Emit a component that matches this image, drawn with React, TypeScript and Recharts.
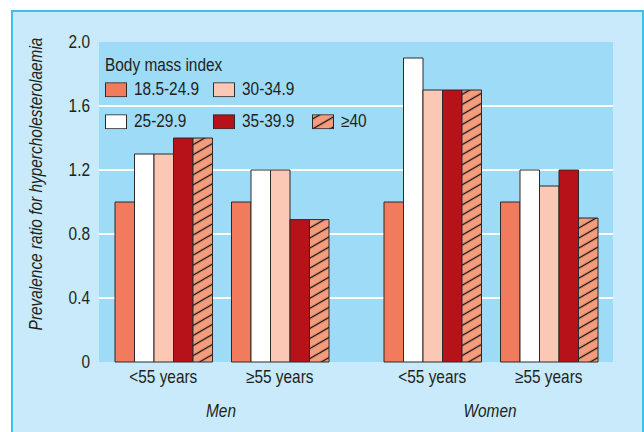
// Prevalence ratio for hypercholesterolaemia by body mass index, age group and sex.
import { BarChart, Bar, XAxis, YAxis, CartesianGrid } from "recharts";

const ageGroups = ["<55 years", "≥55 years"];
const bmiClasses = ["18.5-24.9", "25-29.9", "30-34.9", "35-39.9", "≥40"];

// one value per BMI class, in the order of bmiClasses
const menUnder55 = [1.0, 1.3, 1.3, 1.4, 1.4];
const menOver55 = [1.0, 1.2, 1.2, 0.89, 0.89];
const womenUnder55 = [1.0, 1.9, 1.7, 1.7, 1.7];
const womenOver55 = [1.0, 1.2, 1.1, 1.2, 0.9];

const yTicks = [0, 0.4, 0.8, 1.2, 1.6, 2.0];

const bmiColors = ["#f27b5d", "#ffffff", "#fac8b4", "#b71119", "url(#hatch40)"];
// no condensed face installed, so squeeze Liberation Sans horizontally
const FONT = "'Liberation Sans', Arial, sans-serif";
const FS = 17.5;
const SQ = 0.88;
const TEXT = "#231f20";

const toRows = (series: number[][]) =>
  ageGroups.map((group, i) => {
    const row: Record<string, string | number> = { group };
    bmiClasses.forEach((_, k) => {
      row[`b${k}`] = series[i][k];
    });
    return row;
  });

const menData = toRows([menUnder55, menOver55]);
const womenData = toRows([womenUnder55, womenOver55]);

const fmtY = (v: number) => (v === 0 ? "0" : v.toFixed(1));

const XTick = (props: any) => {
  const { x, y, payload } = props;
  return (
    <text
      transform={`translate(${x},${y}) scale(${SQ},1)`}
      textAnchor="middle"
      dy="0.71em"
      fontSize={FS}
      fontFamily={FONT}
      fill={TEXT}
    >
      {payload.value}
    </text>
  );
};

const YTick = (props: any) => {
  const { x, y, payload } = props;
  return (
    <text
      transform={`translate(${x},${y}) scale(${SQ},1)`}
      textAnchor="end"
      dy="0.36em"
      fontSize={FS}
      fontFamily={FONT}
      fill={TEXT}
    >
      {fmtY(payload.value)}
    </text>
  );
};

function Panel({
  data,
  width,
  margin,
  showY,
  padding,
}: {
  data: Record<string, string | number>[];
  width: number;
  margin: { top: number; right: number; bottom: number; left: number };
  showY: boolean;
  padding: { left: number; right: number };
}) {
  return (
    <BarChart
      width={width}
      height={432}
      data={data}
      margin={margin}
      barGap={0}
      barSize={19.5}
    >
      <CartesianGrid
        vertical={false}
        horizontalValues={[0.4, 0.8, 1.2, 1.6]}
        stroke="#ffffff"
        strokeWidth={2}
        fill="#9ddbf6"
        fillOpacity={1}
      />
      <XAxis
        dataKey="group"
        height={70}
        tickLine={false}
        axisLine={false}
        tickMargin={3}
        padding={padding}
        tick={<XTick />}
        interval={0}
      />
      <YAxis
        hide={!showY}
        width={99}
        domain={[0, 2]}
        ticks={yTicks}
        tickLine={false}
        axisLine={false}
        tickMargin={3}
        tick={<YTick />}
      />
      {bmiClasses.map((name, k) => (
        <Bar
          key={name}
          dataKey={`b${k}`}
          name={name}
          fill={bmiColors[k]}
          stroke="#2a2a2a"
          strokeWidth={1}
          isAnimationActive={false}
        />
      ))}
    </BarChart>
  );
}

const squeeze = (origin: string): React.CSSProperties => ({
  display: "inline-block",
  transform: `scaleX(${SQ})`,
  transformOrigin: origin,
});

const legendCols = [105, 213, 312];
const legendRowsY = [90, 122];
// which BMI class sits in which legend slot: [row, col]
const legendSlots: [number, number][] = [
  [0, 0],
  [1, 0],
  [0, 1],
  [1, 1],
  [1, 2],
];

export default function App() {
  return (
    <div
      style={{
        position: "absolute",
        left: 0,
        top: 0,
        width: 644,
        height: 432,
        background: "#ffffff",
        overflow: "hidden",
        fontFamily: FONT,
        fontSize: FS,
        color: TEXT,
        lineHeight: 1,
      }}
    >
      <svg width={0} height={0} style={{ position: "absolute" }}>
        <defs>
          <pattern
            id="hatch40"
            patternUnits="userSpaceOnUse"
            width={10}
            height={8.7}
            patternTransform="rotate(-30)"
          >
            <rect width={10} height={8.7} fill="#f59c7c" />
            <line x1={0} y1={4.35} x2={10} y2={4.35} stroke="#111111" strokeWidth={1.3} />
          </pattern>
        </defs>
      </svg>
      <div
        style={{
          position: "absolute",
          left: 11,
          top: 10,
          width: 629,
          height: 430,
          background: "#c8eafa",
          borderLeft: "2px solid #45bce9",
          borderTop: "2px solid #45bce9",
          borderRight: "2px solid #45bce9",
        }}
      />
      <div style={{ position: "absolute", left: 0, top: 0 }}>
        <Panel
          data={menData}
          width={356}
          margin={{ top: 42, right: 0, bottom: 0, left: 0 }}
          showY
          padding={{ left: 6, right: 18 }}
        />
      </div>
      <div style={{ position: "absolute", left: 356, top: 0 }}>
        <Panel
          data={womenData}
          width={288}
          margin={{ top: 42, right: 31, bottom: 0, left: 0 }}
          showY={false}
          padding={{ left: 18, right: 6 }}
        />
      </div>

      {/* legend */}
      <div
        style={{
          position: "absolute",
          left: 105,
          top: 66,
          transform: "translateY(-50%)",
          whiteSpace: "nowrap",
        }}
      >
        <span style={squeeze("left center")}>Body mass index</span>
      </div>
      {bmiClasses.map((name, k) => {
        const [r, c] = legendSlots[k];
        return (
          <div
            key={name}
            style={{
              position: "absolute",
              left: legendCols[c],
              top: legendRowsY[r],
              transform: "translateY(-50%)",
              display: "flex",
              alignItems: "center",
              whiteSpace: "nowrap",
            }}
          >
            <svg width={22} height={15} style={{ marginRight: 7 }}>
              <rect
                x={0.5}
                y={0.5}
                width={21}
                height={14}
                fill={bmiColors[k]}
                stroke="#2a2a2a"
                strokeWidth={1}
              />
            </svg>
            <span style={squeeze("left center")}>{name}</span>
          </div>
        );
      })}

      {/* axis titles */}
      <div
        style={{
          position: "absolute",
          left: 37,
          top: 184,
          transform: `translate(-50%, -50%) rotate(-90deg) scaleX(${SQ})`,
          fontStyle: "italic",
          whiteSpace: "nowrap",
        }}
      >
        Prevalence ratio for hypercholesterolaemia
      </div>
      {[
        ["Men", 221],
        ["Women", 490],
      ].map(([label, x]) => (
        <div
          key={label}
          style={{
            position: "absolute",
            left: x as number,
            top: 412,
            transform: `translate(-50%, -50%) scaleX(${SQ})`,
            fontStyle: "italic",
            whiteSpace: "nowrap",
          }}
        >
          {label}
        </div>
      ))}
    </div>
  );
}
